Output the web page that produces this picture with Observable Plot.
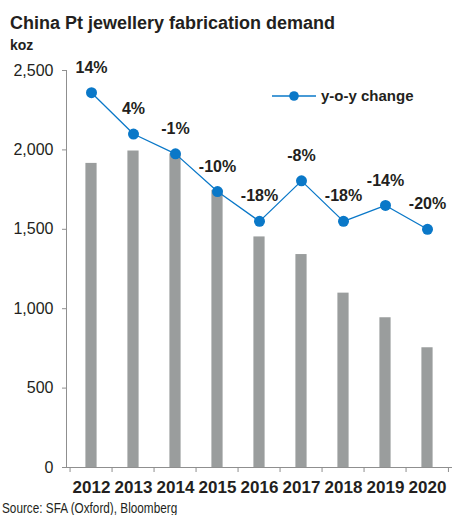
<!DOCTYPE html>
<html>
<head>
<meta charset="utf-8">
<script src="https://cdn.jsdelivr.net/npm/d3@7"></script>
<script src="https://cdn.jsdelivr.net/npm/@observablehq/plot@0.6"></script>
<style>
  html, body { margin: 0; padding: 0; background: #fff; }
  body { width: 454px; height: 515px; overflow: hidden; font-family: "Liberation Sans", Arial, sans-serif; color: #231f20; }
  #title { margin: 13px 0 0 10px; height: 20px; line-height: 20px; font-size: 18px; font-weight: bold; white-space: nowrap; }
  #unit { margin: 4px 0 0 10px; height: 16px; line-height: 16px; font-size: 14px; font-weight: bold; }
  #chart { position: relative; height: 447px; }
  #chart svg { display: block; }
  #legend { position: absolute; left: 272px; top: 34px; display: flex; align-items: center; font-size: 15px; font-weight: bold; white-space: nowrap; }
  #legend svg { margin-right: 5px; }
  #source { height: 16px; line-height: 16px; margin-left: 2px; white-space: nowrap; }
  #source span { display: inline-block; font-size: 14px; transform: scaleX(0.84); transform-origin: 0 50%; }
</style>
</head>
<body>
<div id="title">China Pt jewellery fabrication demand</div>
<div id="unit">koz</div>
<div id="chart"></div>
<div id="source"><span>Source: SFA (Oxford), Bloomberg</span></div>
<script>
// ---- data ----
const years = ["2012", "2013", "2014", "2015", "2016", "2017", "2018", "2019", "2020"];
const demand = [1915, 1993, 1975, 1745, 1452, 1341, 1098, 943, 754];           // koz
const yoyChange = [14.4, 4.0, -1.0, -10.5, -18.0, -7.8, -18.0, -14.0, -20.0]; // %
const yoyLabels = ["14%", "4%", "-1%", "-10%", "-18%", "-8%", "-18%", "-14%", "-20%"];
const yTicks = [0, 500, 1000, 1500, 2000, 2500];
const yDomain = [0, 2500];
const yoyDomain = [-80, 20]; // hidden secondary axis for y-o-y change

// ---- build table ----
const toPrimary = d3.scaleLinear().domain(yoyDomain).range(yDomain);
const rows = years.map((y, i) => ({
  year: y,
  demand: demand[i],
  yoy: yoyChange[i],
  yoyPos: toPrimary(yoyChange[i]),
  label: yoyLabels[i]
}));

const W = 454, H = 447;
const mL = 66, mR = 2, mT = 17, mB = 33;
const bw = (W - mL - mR) / years.length;
const blue = "#0a78c8";
const axisGray = "#8f8f8f";
const textDark = "#231f20";
const fmt = d3.format(",");

const chart = Plot.plot({
  width: W,
  height: H,
  marginLeft: mL,
  marginRight: mR,
  marginTop: mT,
  marginBottom: mB,
  style: { fontFamily: "'Liberation Sans', Arial, sans-serif", color: textDark, background: "#fff" },
  x: { type: "band", domain: years, padding: 0 },
  y: { domain: yDomain },
  marks: [
    Plot.barY(rows, { x: "year", y: "demand", fill: "#9a9d9d", insetLeft: 15.4, insetRight: 15.4 }),
    Plot.frame({ anchor: "left", stroke: axisGray }),
    Plot.ruleY([0], { stroke: axisGray }),
    // category boundary ticks
    Plot.ruleX(rows, { x: "year", y1: 0, y2: 0, dx: -bw / 2, insetBottom: -5, stroke: axisGray }),
    Plot.ruleX(rows.slice(-1), { x: "year", y1: 0, y2: 0, dx: bw / 2 - 0.5, insetBottom: -5, stroke: axisGray }),
    Plot.axisY({ ticks: yTicks, tickFormat: (d) => fmt(d), tickSize: 4, tickPadding: 9, stroke: axisGray, fill: textDark, fontSize: 16, label: null }),
    Plot.axisX({ tickSize: 0, tickPadding: 13, fontSize: 17, fontWeight: "bold", fill: textDark, label: null }),
    Plot.line(rows, { x: "year", y: "yoyPos", stroke: blue, strokeWidth: 1.3 }),
    Plot.dot(rows, { x: "year", y: "yoyPos", r: 5.5, fill: blue, stroke: "none" }),
    Plot.text(rows, { x: "year", y: "yoyPos", text: "label", dy: -25, fontSize: 16, fontWeight: "bold", fill: textDark })
  ]
});
document.getElementById("chart").appendChild(chart);

// legend
const legend = document.createElement("div");
legend.id = "legend";
legend.innerHTML = `<svg width="44" height="12"><line x1="0" y1="6" x2="44" y2="6" stroke="${blue}" stroke-width="1.3"/><circle cx="22" cy="6" r="4.8" fill="${blue}"/></svg><span>y-o-y change</span>`;
document.getElementById("chart").appendChild(legend);
</script>
</body>
</html>
